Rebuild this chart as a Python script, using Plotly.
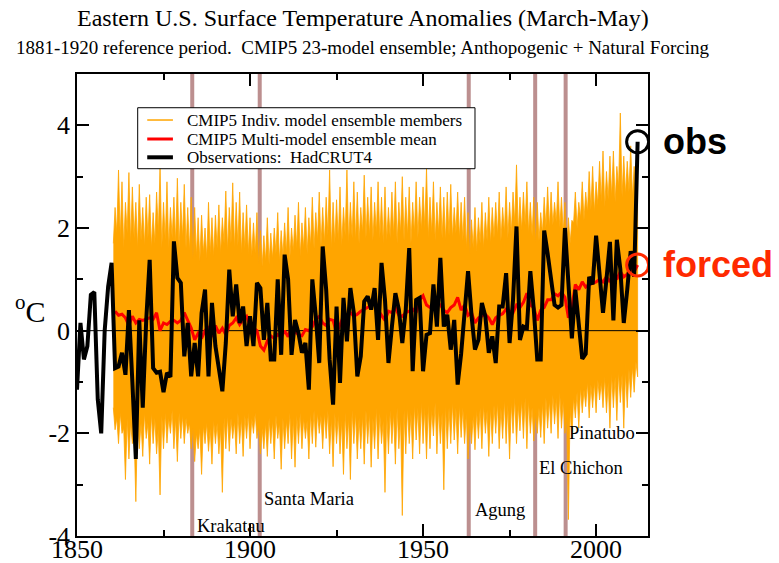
import numpy as np
import plotly.graph_objects as go

# ---------------- data ----------------
obs_years = list(range(1850, 2013))
obs = [
    -1.15, 0.15, -0.56, -0.3, 0.7, 0.75, -1.34, -2.0, 0.0, 0.86,          # 1850-59
    1.32, -0.73, -0.7, -0.43, -0.86, 0.4, -1.0, -2.5, 0.2, -1.5,          # 1860-69
    0.2, 1.38, -0.73, -0.82, -0.8, -1.2, -0.82, -0.9, 1.74, 1.03,         # 1870-79
    0.93, -0.5, 0.15, -0.89, -0.24, -0.89, 0.34, 0.8, -0.89, 0.54,        # 1880-89
    -0.3, -0.76, -1.18, -0.24, 1.19, 0.28, 0.9, 0.15, 0.47, -0.3,         # 1890-99
    0.28, -0.3, 0.93, 0.83, -0.18, 0.54, -0.56, -0.56, 1.0, -0.47,        # 1900-09
    1.48, 1.0, -0.47, 0.21, -0.05, -0.43, -0.24, -1.15, 1.0, 0.28,        # 1910-19
    -0.63, 1.64, 0.8, -0.56, -1.44, 0.47, -1.02, 0.64, -0.21, 0.83,       # 1920-29
    0.34, -0.89, -0.5, 0.57, 0.67, 0.41, 0.83, -0.18, 1.32, 0.6,          # 1930-39
    -0.63, 0.08, 0.73, 0.41, -0.24, 0.41, 1.61, -0.79, 0.6, 0.64,         # 1940-49
    -0.79, -0.08, -0.05, 0.9, 0.08, 1.42, 0.08, 0.31, -0.37, 0.21,        # 1950-59
    -1.05, -0.45, 0.35, 1.16, 0.3, -0.37, -0.18, 0.54, 0.28, -0.43,       # 1960-69
    -0.11, -0.63, 0.47, 0.47, 1.12, -0.24, 0.6, 2.03, -0.18, 0.08,        # 1970-79
    0.05, 1.16, 0.41, -0.56, -0.56, 1.95, 1.5, 1.06, 0.5, 0.45,           # 1980-89
    0.5, 2.0, 1.0, -0.15, 0.8, 0.1, -0.55, -0.45, 1.05, 0.9,              # 1990-99
    1.85, 1.1, 0.35, 1.0, 1.73, 0.2, 1.77, 1.2, 0.15, 0.8,                # 2000-09
    1.55, 1.05, 3.68,                                                     # 2010-12
]

ens_years = list(range(1861, 2013))
ens_mean = [
    0.38, 0.3, 0.32, 0.25, 0.1, 0.28, 0.15, 0.22, 0.2, 0.22,
    0.25, 0.22, 0.35, 0.0, 0.15, 0.12, 0.18, 0.2, 0.15, 0.2,
    0.35, 0.2, 0.05, -0.18, -0.05, -0.15, 0.0, 0.08, -0.12, 0.1,
    -0.05, 0.05, -0.08, 0.1, 0.15, 0.25, 0.12, 0.22, 0.28, 0.1,
    0.05, 0.0, -0.3, -0.38, -0.2, -0.1, -0.15, -0.08, -0.12, 0.0,
    -0.12, 0.08, -0.02, -0.08, -0.1, 0.02, 0.0, 0.08, 0.22, 0.28,
    0.15, 0.1, 0.22, 0.2, -0.05, 0.1, 0.28, 0.3, 0.35, 0.28,
    0.32, 0.38, 0.42, 0.45, 0.5, 0.53, 0.4, 0.3, 0.2, 0.38,
    0.35, 0.45, 0.3, 0.28, 0.35, 0.38, 0.42, 0.35, 0.6, 0.68,
    0.5, 0.45, 0.42, 0.55, 0.5, 0.4, 0.35, 0.45, 0.5, 0.65,
    0.4, 0.5, 0.3, 0.35, 0.15, 0.25, 0.28, 0.32, 0.25, 0.12,
    0.25, 0.3, 0.33, 0.42, 0.38, 0.35, 0.5, 0.45, 0.55, 0.73,
    0.5, 0.45, 0.2, 0.4, 0.45, 0.6, 0.6, 0.72, 0.68, 0.75,
    0.65, 0.25, 0.45, 0.9, 0.8, 0.95, 0.85, 0.9, 0.92, 0.95,
    1.0, 0.95, 1.05, 0.95, 1.1, 1.0, 1.15, 1.05, 1.1, 1.2,
    1.15, 1.28,
]

# ensemble spread: highest member, top of dense core, bottom of dense core, lowest member
ens_max = [
    2.4, 3.13, 2.9, 2.5, 3.08, 2.8, 2.5, 2.85, 2.4, 2.6,
    2.65, 2.3, 2.7, 3.2, 2.5, 2.9, 2.4, 2.6, 2.97, 2.5,
    2.85, 2.4, 2.6, 2.4, 2.2, 2.25, 2.0, 2.5, 2.2, 2.25,
    2.45, 2.2, 2.72, 2.4, 2.88, 2.5, 2.7, 2.3, 2.45, 2.2,
    2.1, 2.3, 1.95, 1.85, 2.2, 1.9, 2.0, 2.3, 1.95, 2.1,
    2.4, 2.0, 2.25, 2.5, 2.1, 2.4, 2.2, 2.6, 2.3, 2.7,
    2.4, 2.6, 3.13, 2.5, 2.55, 2.8, 2.4, 3.13, 2.5, 2.9,
    2.7, 2.4, 3.03, 2.6, 2.8, 2.5, 2.9, 2.6, 2.8, 2.4,
    2.7, 2.9, 2.5, 3.0, 2.6, 2.8, 2.5, 2.9, 2.6, 2.8,
    3.16, 2.6, 2.9, 2.5, 2.8, 2.6, 2.7, 2.85, 2.4, 2.7,
    2.5, 2.6, 2.3, 2.16, 2.4, 2.2, 2.5, 2.3, 2.6, 2.4,
    2.5, 2.7, 2.4, 2.8, 2.5, 2.7, 3.23, 2.6, 2.7, 2.9,
    2.5, 2.6, 2.5, 2.3, 2.6, 2.8, 2.7, 2.5, 2.9, 2.6,
    2.5, 2.2, 2.15, 2.7, 2.5, 2.9, 2.7, 3.1, 3.2, 2.9,
    3.3, 3.5, 3.1, 3.4, 3.5, 3.2, 4.24, 3.4, 3.3, 3.6,
    3.2, 3.0,
]
ens_core_hi = [
    1.7, 1.9, 1.8, 1.6, 1.9, 1.7, 1.8, 1.6, 1.75, 1.65,
    1.8, 1.6, 1.7, 1.9, 1.6, 1.75, 1.6, 1.8, 1.7, 1.6,
    1.8, 1.6, 1.55, 1.4, 1.45, 1.35, 1.5, 1.4, 1.5, 1.45,
    1.6, 1.5, 1.7, 1.55, 1.7, 1.6, 1.65, 1.5, 1.6, 1.5,
    1.45, 1.5, 1.3, 1.25, 1.35, 1.3, 1.4, 1.5, 1.35, 1.45,
    1.5, 1.4, 1.55, 1.6, 1.45, 1.6, 1.5, 1.65, 1.6, 1.75,
    1.65, 1.7, 1.85, 1.6, 1.7, 1.75, 1.65, 1.85, 1.7, 1.8,
    1.75, 1.7, 1.9, 1.8, 1.85, 1.75, 1.9, 1.8, 1.7, 1.75,
    1.8, 1.85, 1.7, 1.9, 1.75, 1.85, 1.7, 1.9, 1.8, 1.95,
    2.0, 1.8, 1.9, 1.75, 1.9, 1.8, 1.75, 1.85, 1.8, 1.9,
    1.8, 1.75, 1.6, 1.5, 1.6, 1.55, 1.7, 1.6, 1.75, 1.7,
    1.8, 1.85, 1.75, 1.9, 1.8, 1.9, 2.1, 1.9, 1.95, 2.05,
    1.9, 1.85, 1.7, 1.75, 1.9, 2.0, 2.0, 2.05, 2.1, 2.0,
    1.9, 1.6, 1.7, 2.1, 2.0, 2.2, 2.15, 2.3, 2.35, 2.3,
    2.45, 2.5, 2.4, 2.55, 2.6, 2.5, 2.8, 2.6, 2.65, 2.7,
    2.6, 2.5,
]
ens_core_lo = [
    -1.5, -1.7, -1.6, -1.9, -1.7, -1.8, -2.0, -1.7, -1.8, -1.6,
    -1.8, -1.6, -1.7, -1.9, -1.65, -1.6, -1.7, -1.55, -1.7, -1.6,
    -1.65, -1.7, -1.8, -1.9, -2.0, -1.9, -1.85, -1.8, -1.9, -1.75,
    -1.8, -1.9, -1.7, -1.65, -1.7, -1.75, -1.6, -1.7, -1.65, -1.6,
    -1.7, -1.6, -1.85, -1.9, -1.8, -1.7, -1.75, -1.65, -1.8, -1.7,
    -1.75, -1.6, -1.7, -1.65, -1.6, -1.7, -1.75, -1.6, -1.55, -1.6,
    -1.65, -1.6, -1.55, -1.7, -1.6, -1.65, -1.75, -1.6, -1.7, -1.55,
    -1.6, -1.7, -1.65, -1.55, -1.6, -1.7, -1.5, -1.6, -1.75, -1.6,
    -1.55, -1.6, -1.5, -1.7, -1.55, -1.5, -1.6, -1.45, -1.5, -1.4,
    -1.5, -1.45, -1.55, -1.4, -1.5, -1.6, -1.45, -1.5, -1.4, -1.5,
    -1.45, -1.5, -1.6, -1.7, -1.65, -1.55, -1.5, -1.45, -1.55, -1.5,
    -1.45, -1.4, -1.5, -1.35, -1.45, -1.4, -1.3, -1.45, -1.35, -1.3,
    -1.35, -1.5, -1.6, -1.5, -1.4, -1.3, -1.35, -1.25, -1.3, -1.2,
    -1.35, -1.7, -1.5, -1.3, -1.2, -1.1, -1.15, -1.0, -1.05, -1.0,
    -0.95, -1.0, -0.9, -1.0, -0.85, -0.9, -0.8, -0.85, -0.8, -0.75,
    -0.7, -0.6,
]
ens_min = [
    -1.93, -2.2, -2.0, -2.9, -2.5, -2.2, -3.33, -2.3, -2.45, -2.1,
    -2.6, -2.2, -2.4, -3.2, -2.3, -2.19, -2.0, -2.3, -2.55, -2.1,
    -2.2, -2.0, -2.3, -2.55, -2.3, -2.8, -2.2, -2.35, -2.6, -2.2,
    -2.4, -3.15, -2.3, -2.35, -2.1, -2.4, -2.2, -2.45, -2.1, -2.3,
    -2.0, -2.1, -2.4, -2.3, -2.45, -2.2, -2.5, -2.1, -2.7, -2.3,
    -2.2, -2.5, -2.66, -2.2, -2.3, -2.1, -2.5, -2.2, -2.27, -2.0,
    -2.3, -2.1, -2.4, -2.65, -2.2, -2.4, -2.8, -2.3, -2.9, -2.2,
    -2.5, -2.3, -2.6, -2.2, -2.66, -2.3, -2.5, -2.2, -3.15, -2.4,
    -2.2, -2.6, -2.3, -3.6, -2.4, -2.2, -2.5, -2.13, -2.4, -2.2,
    -2.5, -2.3, -2.05, -2.4, -2.2, -3.1, -2.3, -2.2, -2.13, -2.4,
    -2.08, -2.2, -2.5, -2.2, -2.32, -2.1, -2.3, -2.0, -2.45, -2.2,
    -2.0, -2.3, -2.1, -2.2, -2.5, -2.0, -2.2, -1.95, -2.1, -2.3,
    -2.0, -2.15, -2.0, -2.08, -2.2, -1.9, -2.0, -1.82, -2.1, -1.9,
    -2.0, -3.68, -2.1, -1.7, -1.9, -1.6, -1.48, -1.7, -1.5, -1.6,
    -1.35, -1.5, -1.6, -1.9, -1.5, -1.75, -1.4, -1.9, -1.5, -1.3,
    -1.2, -0.9,
]

volcano_years = [1883.3, 1902.8, 1963.2, 1982.4, 1991.2]
volcano_names = ["Krakatau", "Santa Maria", "Agung", "El Chichon", "Pinatubo"]

x_tickvals = [1850, 1900, 1950, 2000]
x_ticktext = ["1850", "1900", "1950", "2000"]
y_tickvals = [-4, -2, 0, 2, 4]
y_ticktext = ["-4", "-2", "0", "2", "4"]

# ---------------- styling / layout constants ----------------
X_RANGE = [1850, 2015]
Y_RANGE = [-4, 5]
ORANGE = "#FFA500"
RED = "#FF0000"
VOLC = "#BC8F8F"
SERIF = "Liberation Serif"
SANS = "Liberation Sans"

# ensemble band: spiky outline built from the spread arrays
yrs = np.array(ens_years, dtype=float)
top_x = np.ravel(np.column_stack([yrs - 0.5, yrs]))
top_y = np.ravel(np.column_stack([ens_core_hi, ens_max]))
bot_y = np.ravel(np.column_stack([ens_core_lo, ens_min]))
band_x = np.concatenate([top_x, top_x[::-1]])
band_y = np.concatenate([top_y, bot_y[::-1]])

fig = go.Figure()

fig.add_trace(go.Scatter(
    x=band_x, y=band_y, mode="lines", fill="toself", fillcolor=ORANGE,
    line=dict(color=ORANGE, width=0.8), hoverinfo="skip", showlegend=False,
    name="CMIP5 Indiv. model ensemble members"))

# zero reference line (drawn over the orange band)
fig.add_trace(go.Scatter(
    x=X_RANGE, y=[0, 0], mode="lines", line=dict(color="black", width=1),
    hoverinfo="skip", showlegend=False))

fig.add_trace(go.Scatter(
    x=ens_years, y=ens_mean, mode="lines", line=dict(color=RED, width=3),
    showlegend=False, name="CMIP5 Multi-model ensemble mean"))

fig.add_trace(go.Scatter(
    x=obs_years, y=obs, mode="lines", line=dict(color="black", width=4),
    showlegend=False, name="Observations: HadCRUT4"))

fig.add_trace(go.Scatter(
    x=[obs_years[-1]], y=[obs[-1]], mode="markers", showlegend=False,
    marker=dict(symbol="circle-open", size=22, color="black", line=dict(width=3, color="black"))))
fig.add_trace(go.Scatter(
    x=[ens_years[-1]], y=[ens_mean[-1]], mode="markers", showlegend=False,
    marker=dict(symbol="circle-open", size=22, color="#FF2A00", line=dict(width=3, color="#FF2A00"))))

shapes = []
for vy in volcano_years:
    shapes.append(dict(type="line", xref="x", yref="paper", x0=vy, x1=vy, y0=0, y1=1,
                       line=dict(color=VOLC, width=4), layer="below"))

# legend box (manual, to match the compact original)
shapes.append(dict(type="rect", xref="paper", yref="paper", x0=0.1063, x1=0.697,
                   y0=0.795, y1=0.927, line=dict(color="black", width=1),
                   fillcolor="white", layer="above"))
legend_rows = [
    ("CMIP5 Indiv. model ensemble members", ORANGE, 1.5, 0.9004),
    ("CMIP5 Multi-model ensemble mean", RED, 3, 0.8593),
    ("Observations: \u00a0HadCRUT4", "black", 4, 0.8197),
]
annotations = []
for text, col, w, yy in legend_rows:
    shapes.append(dict(type="line", xref="paper", yref="paper", x0=0.123, x1=0.168,
                       y0=yy, y1=yy, line=dict(color=col, width=w), layer="above"))
    annotations.append(dict(text=text, xref="paper", yref="paper", x=0.189, y=yy,
                            xanchor="left", yanchor="middle", showarrow=False,
                            font=dict(family=SERIF, size=17, color="black")))

# volcano labels
label_pos = [(1884.2, -3.8), (1903.6, -3.28), (1964.5, -3.49), (1983.0, -2.67), (1991.7, -2.0)]
for name, (lx, ly) in zip(volcano_names, label_pos):
    annotations.append(dict(text=name, x=lx, y=ly, xref="x", yref="y", xanchor="left",
                            yanchor="middle", showarrow=False,
                            font=dict(family=SERIF, size=18.5, color="black")))

# titles
annotations.append(dict(text="Eastern U.S. Surface Temperature Anomalies (March-May)",
                        xref="paper", yref="paper", x=0.5, y=1.121, xanchor="center",
                        yanchor="middle", showarrow=False,
                        font=dict(family=SERIF, size=24, color="black")))
annotations.append(dict(text="1881-1920 reference period. \u00a0CMIP5 23-model ensemble; Anthopogenic + Natural Forcing",
                        xref="paper", yref="paper", x=0.5, y=1.058, xanchor="center",
                        yanchor="middle", showarrow=False,
                        font=dict(family=SERIF, size=19, color="black")))
# y axis label
annotations.append(dict(text="<sup>o</sup>C", xref="paper", yref="paper", x=-0.082, y=0.491,
                        xanchor="center", yanchor="middle", showarrow=False,
                        font=dict(family=SERIF, size=30, color="black")))
# obs / forced labels
annotations.append(dict(text="<b>obs</b>", xref="paper", yref="y", x=1.022, y=obs[-1],
                        xanchor="left", yanchor="middle", showarrow=False,
                        font=dict(family=SANS, size=36, color="black")))
annotations.append(dict(text="<b>forced</b>", xref="paper", yref="y", x=1.022, y=ens_mean[-1],
                        xanchor="left", yanchor="middle", showarrow=False,
                        font=dict(family=SANS, size=36, color="#FF2A00")))

axis_common = dict(
    ticks="inside", ticklen=12, tickwidth=1.5, tickcolor="black",
    showline=True, linecolor="black", linewidth=1.5, mirror="ticks",
    showgrid=False, zeroline=False, automargin=False,
    tickfont=dict(family=SERIF, size=26, color="black"),
)

fig.update_layout(
    width=779, height=563,
    margin=dict(l=77, r=131, t=74, b=27),
    paper_bgcolor="white", plot_bgcolor="white",
    font=dict(family=SERIF, color="black"),
    showlegend=False,
    xaxis=dict(range=X_RANGE, tickvals=x_tickvals, ticktext=x_ticktext,
               ticklabelstandoff=-11,
               minor=dict(tick0=1850, dtick=25, ticks="inside", ticklen=6,
                          tickwidth=1.5, tickcolor="black"),
               **axis_common),
    yaxis=dict(range=Y_RANGE, tickvals=y_tickvals, ticktext=y_ticktext,
               minor=dict(tick0=0, dtick=1, ticks="inside", ticklen=6,
                          tickwidth=1.5, tickcolor="black"),
               **axis_common),
    shapes=shapes,
    annotations=annotations,
)

# remove the page's default body margin so the 779x563 figure fills the window
fig.write_html(
    "out.html",
    config={"displayModeBar": False},
    post_script="document.body.style.margin='0';document.body.style.overflow='hidden';",
)
